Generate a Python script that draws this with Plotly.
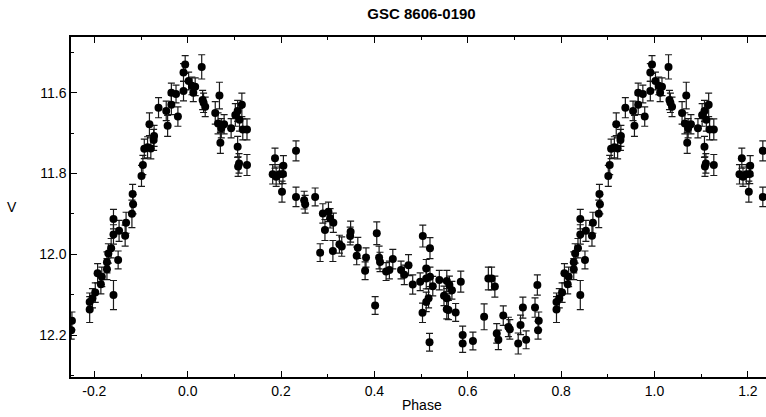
import plotly.graph_objects as go

# Phase-folded photometry (phase in [0,1)), V magnitude and error
phase = [0.002, 0.009, 0.012, 0.016, 0.030, 0.032, 0.034, 0.0375, 0.059, 0.065,
         0.068, 0.070, 0.072, 0.078, 0.093, 0.102, 0.107, 0.107, 0.108, 0.110,
         0.111, 0.116, 0.118, 0.127, 0.127, 0.182, 0.187, 0.1895, 0.1966, 0.204,
         0.205, 0.202, 0.232, 0.232, 0.2495, 0.2516, 0.273, 0.2837, 0.2895, 0.294,
         0.3015, 0.305, 0.311, 0.312, 0.325, 0.330, 0.348, 0.349, 0.362, 0.3644,
         0.380, 0.382, 0.4015, 0.405, 0.410, 0.412, 0.425, 0.432, 0.4394, 0.457,
         0.464, 0.473, 0.482, 0.498, 0.503, 0.5036, 0.511, 0.511, 0.511, 0.516,
         0.518, 0.519, 0.519, 0.525, 0.539, 0.549, 0.555, 0.555, 0.555, 0.5585,
         0.5606, 0.566, 0.574, 0.585, 0.589, 0.589, 0.611, 0.635, 0.644, 0.651,
         0.658, 0.662, 0.6655, 0.676, 0.687, 0.690, 0.708, 0.713, 0.718, 0.725,
         0.744, 0.749, 0.7505, 0.752, 0.790, 0.790, 0.796, 0.802, 0.807, 0.814,
         0.816, 0.827, 0.827, 0.830, 0.836, 0.841, 0.841, 0.841, 0.851, 0.853,
         0.866, 0.868, 0.8805, 0.882, 0.883, 0.901, 0.904, 0.907, 0.914, 0.918,
         0.921, 0.927, 0.928, 0.9375, 0.954, 0.957, 0.965, 0.965, 0.975, 0.979,
         0.991, 0.991, 0.9946]
vmag = [11.571, 11.583, 11.600, 11.585, 11.536, 11.618, 11.625, 11.635, 11.650, 11.676,
        11.607, 11.724, 11.688, 11.678, 11.688, 11.655, 11.645, 11.734, 11.783, 11.775,
        11.667, 11.630, 11.691, 11.691, 11.779, 11.802, 11.762, 11.808, 11.802, 11.801,
        11.781, 11.845, 11.744, 11.858, 11.866, 11.876, 11.858, 11.996, 11.899, 11.940,
        11.895, 11.911, 11.992, 11.922, 11.975, 11.981, 11.955, 11.944, 12.004, 11.984,
        12.041, 12.008, 12.127, 11.948, 12.008, 12.019, 12.043, 12.039, 12.012, 12.039,
        12.051, 12.027, 12.075, 12.068, 12.145, 11.955, 12.035, 12.060, 12.118, 12.109,
        12.218, 11.985, 12.056, 12.079, 12.064, 12.103, 12.066, 12.109, 12.136, 12.138,
        12.076, 12.089, 12.144, 12.068, 12.200, 12.221, 12.215, 12.155, 12.060, 12.060,
        12.080, 12.196, 12.212, 12.152, 12.180, 12.186, 12.221, 12.175, 12.132, 12.212,
        12.132, 12.076, 12.188, 12.165, 12.118, 12.137, 12.109, 12.095, 12.047, 12.074,
        12.056, 12.020, 12.037, 11.998, 11.985, 11.913, 11.951, 12.101, 12.014, 11.942,
        11.954, 11.922, 11.900, 11.851, 11.876, 11.806, 11.779, 11.739, 11.735, 11.678,
        11.738, 11.717, 11.707, 11.637, 11.645, 11.682, 11.600, 11.630, 11.603, 11.659,
        11.550, 11.596, 11.530]
verr = [0.022, 0.022, 0.022, 0.022, 0.030, 0.024, 0.024, 0.024, 0.028, 0.026,
        0.033, 0.026, 0.024, 0.024, 0.024, 0.028, 0.026, 0.026, 0.024, 0.024,
        0.028, 0.029, 0.026, 0.026, 0.026, 0.024, 0.025, 0.024, 0.024, 0.024,
        0.025, 0.026, 0.025, 0.024, 0.022, 0.022, 0.022, 0.022, 0.024, 0.026,
        0.024, 0.024, 0.026, 0.024, 0.022, 0.024, 0.022, 0.026, 0.022, 0.026,
        0.022, 0.024, 0.022, 0.028, 0.028, 0.024, 0.022, 0.022, 0.024, 0.022,
        0.024, 0.026, 0.024, 0.022, 0.024, 0.027, 0.022, 0.026, 0.024, 0.024,
        0.022, 0.026, 0.024, 0.024, 0.024, 0.024, 0.026, 0.024, 0.024, 0.024,
        0.022, 0.022, 0.022, 0.026, 0.022, 0.022, 0.022, 0.032, 0.028, 0.028,
        0.026, 0.024, 0.024, 0.024, 0.024, 0.024, 0.026, 0.024, 0.026, 0.022,
        0.024, 0.025, 0.022, 0.022, 0.022, 0.032, 0.024, 0.024, 0.024, 0.024,
        0.024, 0.026, 0.026, 0.024, 0.024, 0.024, 0.024, 0.036, 0.022, 0.026,
        0.026, 0.026, 0.034, 0.024, 0.024, 0.026, 0.024, 0.024, 0.026, 0.028,
        0.026, 0.026, 0.026, 0.025, 0.024, 0.026, 0.024, 0.024, 0.022, 0.024,
        0.022, 0.024, 0.022]

x_ticks = [-0.2, 0.0, 0.2, 0.4, 0.6, 0.8, 1.0, 1.2]
x_labels = ["-0.2", "0.0", "0.2", "0.4", "0.6", "0.8", "1.0", "1.2"]
x_minor = [-0.1, 0.1, 0.3, 0.5, 0.7, 0.9, 1.1]
y_ticks = [11.6, 11.8, 12.0, 12.2]
y_labels = ["11.6", "11.8", "12.0", "12.2"]
y_minor = [11.5, 11.7, 11.9, 12.1, 12.3]

# Fold: show each measurement at phase-1, phase and phase+1 within the plotted window
px, py, pe = [], [], []
for p, v, e in zip(phase, vmag, verr):
    for shift in (-1, 0, 1):
        q = p + shift
        if -0.2505 <= q <= 1.26:
            px.append(q)
            py.append(v)
            pe.append(e)

FONT = "Liberation Sans Narrow, Arial Narrow, Liberation Sans, Arial, sans-serif"

W, H = 766, 417
L, T, B = 71, 37, 40

fig = go.Figure()
fig.add_trace(go.Scatter(
    x=px, y=py, mode="markers",
    marker=dict(color="black", size=8, line=dict(width=0)),
    error_y=dict(type="data", array=pe, visible=True, color="#1a1a1a",
                 thickness=1.2, width=3.5),
    showlegend=False,
))

plot_w = W - L
plot_h = H - T - B

fig.update_layout(
    width=W, height=H,
    margin=dict(l=L, r=0, t=T, b=B, pad=0),
    paper_bgcolor="white", plot_bgcolor="white",
    font=dict(family=FONT, size=14, color="black"),
    title=dict(text="<b>GSC 8606-0190</b>", x=421.5 / W, xanchor="center",
               y=1 - 14 / H, yanchor="middle", font=dict(family=FONT, size=15)),
    annotations=[
        dict(text="Phase", x=(421.5 - L) / plot_w, y=-28 / plot_h,
             xref="x domain", yref="y domain",
             showarrow=False, xanchor="center", yanchor="middle", font=dict(size=14)),
        dict(text="V", x=0, y=0.5, xref="x domain", yref="y domain",
             xshift=-59, showarrow=False, xanchor="center", yanchor="middle",
             font=dict(size=14)),
    ],
)

fig.update_xaxes(
    range=[-0.25, 1.2388], showgrid=False, zeroline=False,
    showline=True, linecolor="black", linewidth=1.5, mirror="ticks",
    ticks="inside", ticklen=6, tickwidth=1, tickcolor="black",
    tickmode="array", tickvals=x_ticks, ticktext=x_labels,
    minor=dict(tickmode="array", tickvals=x_minor, ticks="inside", ticklen=3,
               tickcolor="black", tickwidth=1),
)
fig.update_yaxes(
    range=[12.304, 11.462], showgrid=False, zeroline=False,
    showline=True, linecolor="black", linewidth=1.5, mirror=False,
    ticks="inside", ticklen=6, tickwidth=1, tickcolor="black",
    tickmode="array", tickvals=y_ticks, ticktext=y_labels,
    minor=dict(tickmode="array", tickvals=y_minor, ticks="inside", ticklen=3,
               tickcolor="black", tickwidth=1),
)

# Remove the browser's default 8px page margin so the figure fills the window exactly.
fig.write_html("out.html",
               config={"displayModeBar": False},
               post_script="document.body.style.margin='0';document.body.style.overflow='hidden';")
